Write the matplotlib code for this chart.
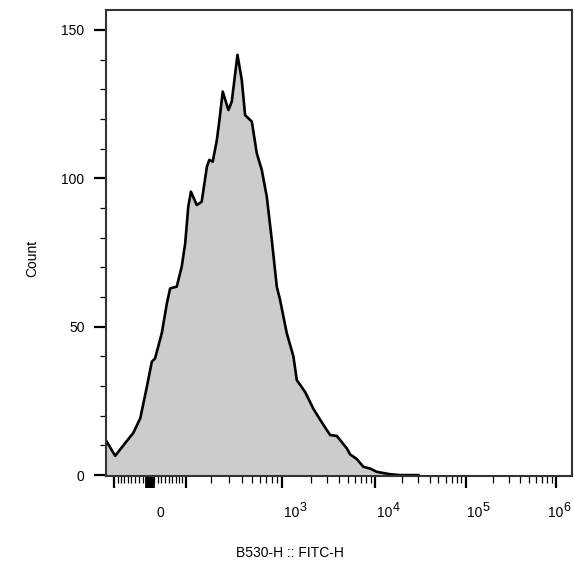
import numpy as np
import matplotlib
matplotlib.use("Agg")
import matplotlib.pyplot as plt
from matplotlib import transforms
from matplotlib.ticker import MultipleLocator

plt.rcParams['font.family'] = ['Liberation Sans', 'DejaVu Sans']

# histogram (FITC-H intensity, count)
fitc_h = [-125, -97, -63, -45, -26, -9, 4.5, 13, 31, 45, 54, 73, 88, 99, 109, 118,
          139, 158, 180, 191, 207, 228, 242, 261, 297, 320, 364, 401, 432, 503,
          563, 631, 708, 795, 893, 965, 1130, 1323, 1435, 1754, 2148, 2636, 3239,
          3823, 4908, 5327, 6304, 7443, 8811, 10432, 12335, 14620, 18849, 30000]
counts = [11.5, 6.5, 11.5, 14.2, 19.2, 29.5, 38.2, 39.3, 47.8, 57.9, 62.9, 63.5,
          70.2, 78.1, 90.4, 95.5, 91.0, 92.1, 103.9, 106.2, 105.6, 112.9, 119.6,
          129.2, 123.0, 125.8, 141.6, 133.1, 121.3, 119.1, 108.4, 102.8, 93.8,
          79.2, 63.5, 59.0, 47.8, 40.0, 32.0, 28.0, 22.3, 17.8, 13.5, 13.2, 9.0,
          7.0, 5.4, 2.8, 2.2, 1.1, 0.7, 0.3, 0.0, 0.0]

x_major = [-100, 0, 100, 1e3, 1e4, 1e5, 1e6]
x_label_vals = [0, 1e3, 1e4, 1e5, 1e6]
x_label_base = ['0', '10', '10', '10', '10']
x_label_exp = ['', '3', '4', '5', '6']
x_label_dx = [6, 2, 2, 1, -8]   # pixel nudges of the labels
x_minor = ([-v for v in range(10, 100, 10)] + list(range(10, 100, 10))
           + [m * 10 ** k for k in (2, 3, 4, 5) for m in range(2, 10)])
y_major = [0, 50, 100, 150]

# logicle-like display transform
P = 2.3
C = 31.3


def biex_inv(u):
    u = np.asarray(u, dtype=float)
    return C * (np.exp(u) - P ** 2 * np.exp(-u / P) + P ** 2 - 1)


_grid = np.linspace(-4, 13, 6000)
_vals = biex_inv(_grid)


def biex_fwd(v):
    return np.interp(np.asarray(v, dtype=float), _vals, _grid)


fig = plt.figure(figsize=(5.74, 5.68), dpi=100)
ax = fig.add_axes([106 / 574, (568 - 476) / 568, 466 / 574, 466 / 568])
ax.set_xscale('function', functions=(biex_fwd, biex_inv))

ax.fill_between(fitc_h, counts, 0, color='#cccccc', lw=0)
ax.plot(fitc_h, counts, color='black', lw=1.9, solid_joinstyle='round')

ax.set_xlim(-126, 1.52e6)
ax.set_ylim(-0.3, 156.7)

for sp in ax.spines.values():
    sp.set_color('#333333')
    sp.set_linewidth(1.5)

ax.set_yticks(y_major)
ax.set_yticklabels([str(v) for v in y_major])
ax.yaxis.set_minor_locator(MultipleLocator(10))
ax.tick_params(axis='y', which='major', length=8.5, width=1.6, pad=7,
               labelsize=10, colors='black')
ax.tick_params(axis='y', which='minor', length=4.5, width=0.9, colors='black')

ax.set_xticks(x_major)
ax.set_xticklabels([''] * len(x_major))
ax.set_xticks(x_minor, minor=True)
ax.tick_params(axis='x', which='major', length=8.5, width=1.6, colors='black')
ax.tick_params(axis='x', which='minor', length=5, width=0.9, colors='black')
# the zero tick is drawn as a wide block
ax.xaxis.get_major_ticks()[1].tick1line.set_markeredgewidth(7)

trans = transforms.blended_transform_factory(ax.transData, ax.transAxes)
for v, base, ex, dx in zip(x_label_vals, x_label_base, x_label_exp, x_label_dx):
    off = transforms.ScaledTranslation(dx / 100, 0, fig.dpi_scale_trans)
    t = ax.text(v, -41 / 466, base, transform=trans + off, ha='left',
                va='baseline', fontsize=10, clip_on=False)
    if ex:
        ax.annotate(ex, xy=(1.0, 1.0), xycoords=t, xytext=(0.3, -3.3),
                    textcoords='offset points', ha='left', va='baseline',
                    fontsize=9, annotation_clip=False)

fig.text(32 / 574, 1 - 258 / 568, 'Count', rotation=90, ha='center',
         va='center', fontsize=10)
fig.text(290 / 574, 1 - 553 / 568, 'B530-H :: FITC-H', ha='center',
         va='center', fontsize=10)

fig.savefig('out.png', dpi=100)
